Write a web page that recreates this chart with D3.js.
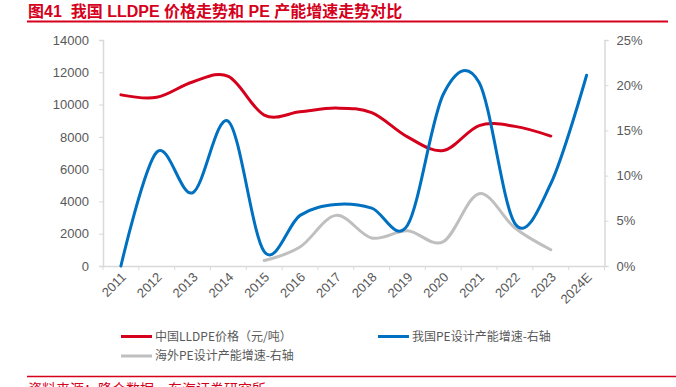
<!DOCTYPE html>
<html>
<head>
<meta charset="utf-8">
<script src="https://cdn.jsdelivr.net/npm/d3@7"></script>
<style>
  body { margin: 0; background: #fff; }
  svg { display: block; font-family: "Liberation Sans", Arial, "Noto Sans CJK SC", sans-serif; }
</style>
</head>
<body>
<svg id="chart" width="676" height="387"></svg>
<script>
// data
const years = ["2011", "2012", "2013", "2014", "2015", "2016", "2017", "2018", "2019", "2020", "2021", "2022", "2023", "2024E"]
const lldpePrice = [10600, 10450, 11400, 11750, 9350, 9550, 9780, 9500, 8000, 7150, 8700, 8650, 8050, null]
const chinaPeGrowth = [0, 12.6, 8.1, 16.0, 1.6, 5.6, 6.8, 6.4, 4.5, 19.0, 20.3, 4.7, 9.1, 21.1]
const overseasPeGrowth = [null, null, null, null, 0.6, 2.1, 5.6, 3.1, 3.9, 2.7, 8.0, 4.2, 1.8, null]
const leftTicks = [0, 2000, 4000, 6000, 8000, 10000, 12000, 14000]
const rightTicks = [0, 5, 10, 15, 20, 25]

const red = "#D5001C", blue = "#0070C0", grey = "#BFBFBF"
const textGrey = "#595959", axisGrey = "#D9D9D9"

const svg = d3.select("#chart")

// title + rules
svg.append("text").attr("x", 28).attr("y", 17)
  .attr("fill", red).attr("font-size", 16).attr("font-weight", "bold")
  .style("white-space", "pre")
  .text("图41  我国 LLDPE 价格走势和 PE 产能增速走势对比")
svg.append("line").attr("x1", 27).attr("x2", 668).attr("y1", 21.5).attr("y2", 21.5)
  .attr("stroke", red).attr("stroke-width", 2)
svg.append("line").attr("x1", 27).attr("x2", 676).attr("y1", 376.5).attr("y2", 376.5)
  .attr("stroke", red).attr("stroke-width", 1.5)
svg.append("text").attr("x", 28).attr("y", 394)
  .attr("fill", red).attr("font-size", 14)
  .text("资料来源：隆众数据，东海证券研究所")

const plotLeft = 103, plotRight = 604.5, plotTop = 40, plotBottom = 266

const x = d3.scaleBand().domain(years).range([plotLeft, plotRight]).padding(0)
const yL = d3.scaleLinear().domain([0, 14000]).range([plotBottom, plotTop])
const yR = d3.scaleLinear().domain([0, 25]).range([plotBottom, plotTop])
const cx = d => x(d) + x.bandwidth() / 2

// axes
const gL = svg.append("g").attr("transform", `translate(${plotLeft},0)`)
  .call(d3.axisLeft(yL).tickValues(leftTicks).tickSize(4).tickPadding(10).tickFormat(d3.format("d")))
const gR = svg.append("g").attr("transform", `translate(${plotRight},0)`)
  .call(d3.axisRight(yR).tickValues(rightTicks).tickSize(4).tickPadding(8).tickFormat(d => d + "%"))
const gX = svg.append("g").attr("transform", `translate(0,${plotBottom})`)
  .call(d3.axisBottom(x).tickSize(0).tickPadding(0))

;[gL, gR, gX].forEach(g => {
  g.select(".domain").attr("stroke", axisGrey).attr("stroke-width", 1.5)
  g.selectAll(".tick line").attr("stroke", axisGrey)
  g.selectAll("text").attr("fill", textGrey).attr("font-size", 13)
})

gX.selectAll(".tick text")
  .attr("text-anchor", "end")
  .attr("dy", 0)
  .attr("transform", "translate(6,12) rotate(-45)")

// category boundary ticks
const bounds = years.map(d => x(d)).concat([plotRight])
gX.selectAll(".bnd").data(bounds).join("line").attr("class", "bnd")
  .attr("x1", d => d).attr("x2", d => d).attr("y1", 0).attr("y2", 4)
  .attr("stroke", axisGrey)

// lines
const makeLine = (values, yScale) => d3.line()
  .defined((d, i) => values[i] != null)
  .x((d, i) => cx(years[i]))
  .y((d, i) => yScale(values[i]))
  .curve(d3.curveCatmullRom.alpha(0))

const series = [
  { values: overseasPeGrowth, scale: yR, color: grey },
  { values: lldpePrice, scale: yL, color: red },
  { values: chinaPeGrowth, scale: yR, color: blue }
]
series.forEach(s => {
  svg.append("path").datum(s.values)
    .attr("d", makeLine(s.values, s.scale))
    .attr("fill", "none").attr("stroke", s.color).attr("stroke-width", 3)
    .attr("stroke-linecap", "round")
})

// legend
const legendItems = [
  { label: "中国LLDPE价格（元/吨）", color: red, x: 121, y: 336.5 },
  { label: "我国PE设计产能增速-右轴", color: blue, x: 378, y: 336.5 },
  { label: "海外PE设计产能增速-右轴", color: grey, x: 121, y: 356 }
]
const lg = svg.append("g").selectAll("g").data(legendItems).join("g")
  .attr("transform", d => `translate(${d.x},${d.y})`)
lg.append("line").attr("x1", 0).attr("x2", 31)
  .attr("stroke", d => d.color).attr("stroke-width", 3)
lg.append("text").attr("x", 34).attr("dy", "0.35em")
  .attr("fill", textGrey).attr("font-size", 12)
  .attr("font-family", "'Noto Sans CJK SC', sans-serif")
  .text(d => d.label)
</script>
</body>
</html>
